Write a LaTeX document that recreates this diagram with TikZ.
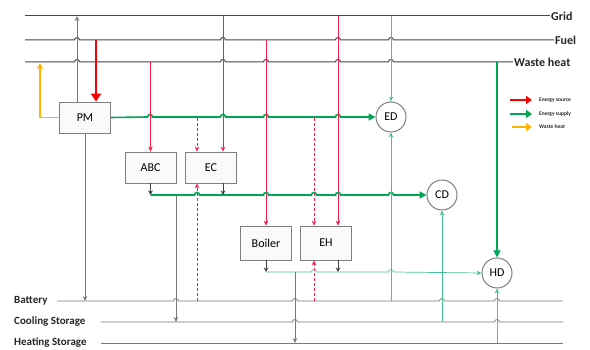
\documentclass[tikz,border=0pt]{standalone}
\usepackage{fontspec}
\setmainfont{Carlito}
\usetikzlibrary{arrows.meta}
\definecolor{busgray}{RGB}{70,70,70}
\definecolor{lgray}{RGB}{120,120,120}
\definecolor{srcred}{RGB}{245,30,70}
\definecolor{thickred}{RGB}{250,0,0}
\definecolor{supgreen}{RGB}{0,165,85}
\definecolor{lgreen}{RGB}{70,195,150}
\definecolor{wasteorange}{RGB}{255,180,0}
\newcommand\jumpline[5]{%
  \draw[#1] (#3,#2) \foreach \j in {#5}{ -- (\j-2.5,#2) arc[start angle=180,end angle=0,radius=2.5pt]} -- (#4,#2);}
\newcommand\plainline[4]{\draw[#1] (#3,#2) -- (#4,#2);}
\tikzset{
  bus/.style={draw=busgray, line width=1pt},
  lbus/.style={draw=lgray, line width=0.8pt},
  buslabel/.style={font=\fontsize{12}{12}\selectfont\bfseries, inner sep=1pt, text=black!85},
  storlabel/.style={font=\fontsize{11}{11}\selectfont\bfseries, inner sep=1pt, text=black!85},
  unitbox/.style={draw=gray, line width=0.8pt, fill=gray!4, minimum width=51pt, minimum height=31pt, inner sep=0pt, font=\fontsize{12}{12}\selectfont},
  demand/.style={circle, draw=gray, line width=1pt, fill=white, minimum size=30pt, inner sep=0pt, font=\fontsize{12}{12}\selectfont},
  redarr/.style={draw=srcred, line width=0.6pt, -{Stealth[length=5pt,width=4.5pt]}},
  reddash/.style={redarr, dashed, dash pattern=on 3pt off 2pt},
  grayarr/.style={draw=lgray, line width=0.8pt, -{Stealth[length=5pt,width=4.5pt]}},
  blackarr/.style={draw=black!75, line width=0.7pt, -{Stealth[length=4.5pt,width=4.5pt]}},
  greenthick/.style={draw=supgreen, line width=1.6pt},
  greenthin/.style={draw=lgreen, line width=0.7pt},
  legtext/.style={font=\fontsize{5.5}{6}\selectfont\bfseries, anchor=west, inner sep=0pt, text=black!85},
}
\begin{document}
\begin{tikzpicture}[x=1pt, y=-1pt]
\useasboundingbox (0,0) rectangle (590,350);
\fill[white] (0,0) rectangle (590,350);

% bus labels
\node[buslabel, anchor=west] (gridlbl) at (550,16) {Grid};
\node[buslabel, anchor=west] (fuellbl) at (554,40) {Fuel};
\node[buslabel, anchor=west] (wastelbl) at (513,62) {Waste heat};
\node[storlabel, anchor=west] (batlbl) at (13,301) {Battery};
\node[storlabel, anchor=west] (coollbl) at (13,322) {Cooling Storage};
\node[storlabel, anchor=west] (heatlbl) at (13,343) {Heating Storage};

% top buses
\plainline{bus}{16}{25}{550}
\jumpline{bus}{40}{25}{554}{77,223,338,391}
\jumpline{bus}{62}{25}{513}{77,223,266,338,391}

% bottom buses
\jumpline{lbus}{301}{57}{563}{176,295,442,497}
\jumpline{lbus}{322}{101}{563}{295,497}
\plainline{lbus}{343}{101}{563}

% units
\node[unitbox] (PM) at (85,117.5) {PM};
\node[unitbox] (ABC) at (150.5,167.5) {ABC};
\node[unitbox] (EC) at (211,167.5) {EC};
\node[unitbox, minimum height=34pt] (Boiler) at (266,243) {Boiler};
\node[unitbox, minimum height=34pt] (EH) at (326,243) {EH};

% demands
\node[demand] (ED) at (391,117) {ED};
\node[demand] (CD) at (442,195) {CD};
\node[demand] (HD) at (497,273) {HD};

% coordinates on buses
\coordinate (gridPM) at (77,16);
\coordinate (fuelPM) at (96,40);
\coordinate (wastePM) at (40,63);
\coordinate (batPM) at (85,301);

% PM connections
\draw[grayarr] ([xshift=-8pt]PM.north) -- (gridPM);
\draw[grayarr] (PM.south) -- (batPM);
\draw[draw=thickred, line width=2.6pt, -{Triangle[length=8pt,width=10pt]}] (fuelPM) -- ([xshift=11pt]PM.north);
\draw[draw=wasteorange, line width=1.6pt, -{Stealth[length=6pt,width=6pt]}] (PM.west) -| (wastePM);

% PM -> ED green line
\draw[greenthick] (PM.east) -- (147.5,117) arc[start angle=180,end angle=0,radius=2.5pt]
  -- (220.5,117) arc[start angle=180,end angle=0,radius=2.5pt]
  -- (263.5,117) arc[start angle=180,end angle=0,radius=2.5pt]
  -- (335.5,117) arc[start angle=180,end angle=0,radius=2.5pt]
  -- (360,117);
\draw[greenthick, -{Triangle[length=7pt,width=7pt]}] (358,117) -- (ED.west);

% red feeds
\draw[redarr] (150.5,62) -- (ABC.north);
\draw[redarr] (223,16) -- ([xshift=12pt]EC.north);
\draw[reddash] (197,118) -- ([xshift=-14pt]EC.north);
\draw[redarr] (266,40) -- (Boiler.north);
\draw[redarr] (338,16) -- ([xshift=12pt]EH.north);
\draw[reddash] (314,118) -- ([xshift=-12pt]EH.north);
\draw[reddash] (197,301) -- ([xshift=-14pt]EC.south);
\draw[reddash] (314,301) -- ([xshift=-12pt]EH.south);

% grid -> ED
\draw[greenthin, -{Stealth[length=5pt,width=4.5pt]}] (391,16) -- (ED.north);

% chillers outputs
\draw[blackarr] (ABC.south) -- (150.5,195);
\draw[blackarr] ([xshift=12pt]EC.south) -- (223,195);
\draw[greenthick] (150.5,195) -- (194.5,195) arc[start angle=180,end angle=0,radius=2.5pt]
  -- (263.5,195) arc[start angle=180,end angle=0,radius=2.5pt]
  -- (311.5,195) arc[start angle=180,end angle=0,radius=2.5pt]
  -- (335.5,195) arc[start angle=180,end angle=0,radius=2.5pt]
  -- (388.5,195) arc[start angle=180,end angle=0,radius=2.5pt]
  -- (412,195);
\draw[greenthick, -{Triangle[length=7pt,width=7pt]}] (410,195) -- (CD.west);
\draw[grayarr] (176,195) -- (176,322);

% heaters outputs
\draw[blackarr] (Boiler.south) -- (266,272);
\draw[blackarr] ([xshift=12pt]EH.south) -- (338,272);
\draw[greenthin, -{Stealth[length=5pt,width=4.5pt]}] (266,272) -- (311.5,272) arc[start angle=180,end angle=0,radius=2.5pt]
  -- (388.5,272) arc[start angle=180,end angle=0,radius=2.5pt]
  -- (HD.west);
\draw[grayarr] (295,272) -- (295,343);

% storage -> demands
\draw[greenthin, -{Stealth[length=5pt,width=4.5pt]}] (391,301) -- (ED.south);
\draw[greenthin, -{Stealth[length=5pt,width=4.5pt]}] (442,322) -- (CD.south);
\draw[greenthin, -{Stealth[length=5pt,width=4.5pt]}] (497,343) -- (HD.south);

% waste heat -> HD
\draw[greenthick, -{Triangle[length=7pt,width=7pt]}] (497,62) -- (HD.north);

% legend
\coordinate (lsA) at (510,100); \coordinate (lsB) at (532,100);
\coordinate (lgA) at (510,114); \coordinate (lgB) at (532,114);
\coordinate (loA) at (512,127); \coordinate (loB) at (532,127);
\draw[draw=thickred, line width=2.4pt, -{Triangle[length=6pt,width=8pt]}] (lsA) -- (lsB);
\draw[draw=supgreen, line width=2.4pt, -{Triangle[length=6pt,width=8pt]}] (lgA) -- (lgB);
\draw[draw=wasteorange, line width=2.4pt, -{Triangle[length=6pt,width=8pt]}] (loA) -- (loB);
\node[legtext] (legS) at (539,100) {Energy source};
\node[legtext] (legG) at (539,114) {Energy supply};
\node[legtext] (legO) at (539,127) {Waste heat};
\end{tikzpicture}
\end{document}
